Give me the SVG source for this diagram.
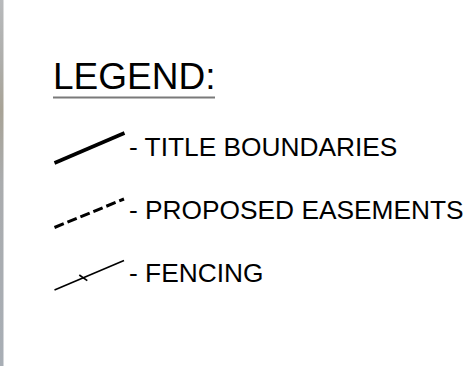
<svg xmlns="http://www.w3.org/2000/svg" width="472" height="366" viewBox="0 0 472 366">
  <defs>
    <linearGradient id="edgeShade" x1="0" y1="0" x2="0" y2="1">
      <stop offset="0" stop-color="#b8babc"/>
      <stop offset="0.17" stop-color="#aeaeab"/>
      <stop offset="0.3" stop-color="#a8a396"/>
      <stop offset="0.5" stop-color="#aaacae"/>
      <stop offset="1" stop-color="#a8aeb5"/>
    </linearGradient>
    <style>
      .label { font-family: "Liberation Sans", Arial, sans-serif; fill: #000; }
      .title { font-size: 37px; }
      .item { font-size: 26.3px; }
      .swatch { fill: none; stroke: #000; stroke-linecap: butt; }
    </style>
  </defs>

  <rect x="0" y="0" width="472" height="366" fill="#fff"/>
  <!-- edge of the neighbouring sheet -->
  <rect x="0" y="0" width="3.5" height="366" fill="url(#edgeShade)"/>

  <g id="legend-heading">
    <text class="label title" x="53" y="89">LEGEND:</text>
    <line x1="53" y1="97.5" x2="215" y2="97.5" stroke="#7a7a7a" stroke-width="2"/>
  </g>

  <g id="connectors">
    <line class="swatch" x1="54.5" y1="163" x2="124.5" y2="133" stroke-width="3.6"/>
    <line class="swatch" x1="54.5" y1="227.5" x2="124" y2="199" stroke-width="3" stroke-dasharray="10 4"/>
    <line class="swatch" x1="54.5" y1="290" x2="124" y2="260.5" stroke-width="1.6"/>
    <line class="swatch" x1="79.3" y1="275" x2="87.3" y2="280.7" stroke-width="1.6"/>
  </g>

  <g id="item-title-boundaries">
    <text class="label item" x="129" y="155.5">- TITLE BOUNDARIES</text>
  </g>
  <g id="item-proposed-easements">
    <text class="label item" x="129" y="219">- PROPOSED EASEMENTS</text>
  </g>
  <g id="item-fencing">
    <text class="label item" x="129" y="282">- FENCING</text>
  </g>
</svg>
